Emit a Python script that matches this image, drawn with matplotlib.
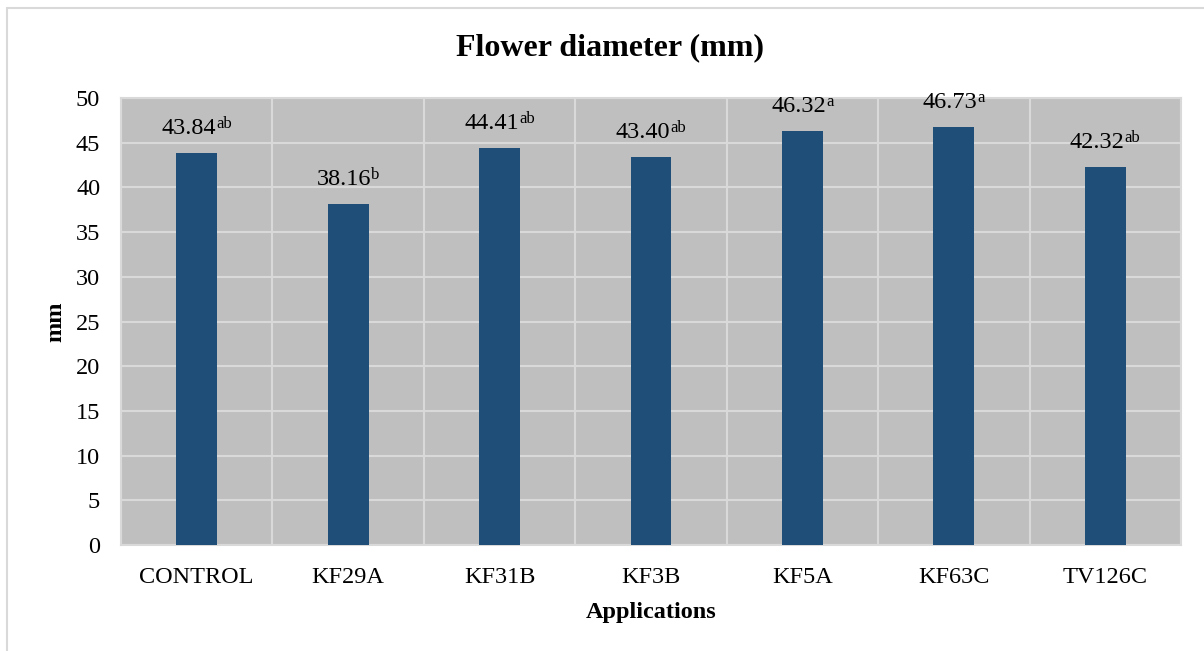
import numpy as np
import matplotlib.pyplot as plt
from matplotlib.patches import Rectangle

plt.rcParams['font.family'] = ['Liberation Serif', 'DejaVu Serif']

applications = ['CONTROL', 'KF29A', 'KF31B', 'KF3B', 'KF5A', 'KF63C', 'TV126C']
diameter = [43.84, 38.16, 44.41, 43.40, 46.32, 46.73, 42.32]
letters = ['ab', 'b', 'ab', 'ab', 'a', 'a', 'ab']

fig = plt.figure(figsize=(12.04, 6.51), dpi=100)
ax = fig.add_axes([121 / 1204, 1 - 545 / 651, 1060 / 1204, 447 / 651])

# outer chart frame
fig.patches.append(Rectangle((7 / 1204, -0.1), 1.2, 1 - 8 / 651 + 0.1,
                             transform=fig.transFigure, fill=False,
                             edgecolor='#D9D9D9', linewidth=1.5))

x = np.arange(len(applications))
ax.set_facecolor('#BFBFBF')
ax.bar(x, diameter, width=0.27, color='#1F4E79', zorder=3)

ax.set_xlim(-0.5, len(applications) - 0.5)
ax.set_ylim(0, 50)
ax.set_yticks(np.arange(0, 51, 5))
ax.set_xticks(x)
ax.set_xticklabels(applications)
ax.set_xticks(np.arange(-0.5, len(applications), 1), minor=True)
ax.grid(True, axis='y', color='#D9D9D9', linewidth=1.5, zorder=1)
ax.grid(True, axis='x', which='minor', color='#D9D9D9', linewidth=1.5, zorder=1)
ax.grid(False, axis='x', which='major')
ax.tick_params(axis='both', which='both', length=0, labelsize=17.5)
ax.tick_params(axis='x', pad=16)
ax.tick_params(axis='y', pad=15)
for sp in ax.spines.values():
    sp.set_color('#D9D9D9')
    sp.set_linewidth(1.5)

ax.set_xlabel('Applications', fontsize=17.5, fontweight='bold', labelpad=10)
ax.set_ylabel('mm', fontsize=17.5, fontweight='bold', labelpad=7)
fig.text(610 / 1204, 1 - 48 / 651, 'Flower diameter (mm)', ha='center',
         va='center', fontsize=23, fontweight='bold')

# value labels with significance letters as superscripts
renderer = fig.canvas.get_renderer()
pt = 72 / fig.dpi
for xi, v, s in zip(x, diameter, letters):
    num = '%.2f' % v
    tmp = ax.text(0, 0, num, fontsize=17.5)
    wm = tmp.get_window_extent(renderer).width * pt
    tmp.remove()
    tmp = ax.text(0, 0, s, fontsize=12)
    ws = tmp.get_window_extent(renderer).width * pt
    tmp.remove()
    x0 = -(wm + ws) / 2
    ax.annotate(num, (xi, v), xytext=(x0, 13.7), textcoords='offset points',
                ha='left', va='baseline', fontsize=17.5, color='black')
    ax.annotate(s, (xi, v), xytext=(x0 + wm, 18.0), textcoords='offset points',
                ha='left', va='baseline', fontsize=12, color='black')

fig.savefig('out.png', dpi=100)
